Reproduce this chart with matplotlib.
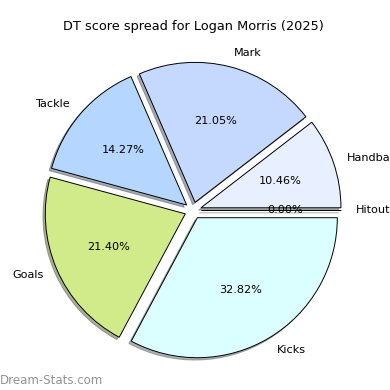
import matplotlib.pyplot as plt

# DT points per stat (percentages in the picture come from these)
labels = ['Handball', 'Mark', 'Tackle', 'Goals', 'Kicks', 'Hitout']
points = [88, 177, 120, 180, 276, 0]
colours = ['#e8efff', '#c5d9ff', '#b5d6ff', '#d1eb8b', '#dbffff', '#e0e0e0']
title = 'DT score spread for Logan Morris (2025)'

fig = plt.figure(figsize=(3.9, 3.9), dpi=100)
ax = fig.add_axes([18/390, 4.5/390, 350/390, 350/390])

wedges, texts, autotexts = ax.pie(points, labels=labels, colors=colours,
                                  explode=[0.06]*len(points),
                                  shadow={'ox': -0.012, 'oy': -0.012, 'shade': 0.6},
                                  autopct='%1.2f%%', startangle=0,
                                  wedgeprops={'edgecolor': 'black', 'linewidth': 0.7},
                                  textprops={'fontsize': 8.1})
ax.set_title(title, fontsize=9.3, pad=4)

fig.text(0.0, 0.008, 'Dream-Stats.com', fontsize=8.5, color='#929292',
         ha='left', va='bottom')

fig.savefig('out.png', dpi=100)
